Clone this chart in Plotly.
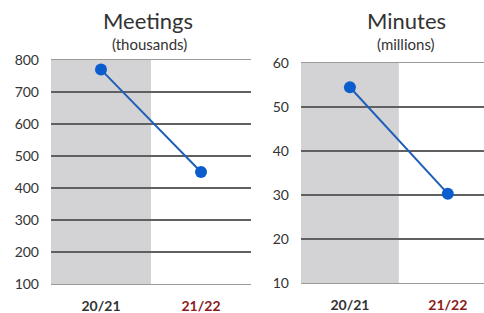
import plotly.graph_objects as go

categories = ["20/21", "21/22"]
meetings = [770, 450]
minutes = [54.5, 30.3]
meet_ticks = [100, 200, 300, 400, 500, 600, 700, 800]
min_ticks = [10, 20, 30, 40, 50, 60]

W, H = 484, 313
FONT = "Lato"
DARK = "#333333"
RED = "#8b1a1a"
GRID = "#606060"
SHADE = "#d3d3d5"
LINE = "#1f5fb8"
MARK = "#0b5ccc"

ticktext = ["<b>%s</b>" % categories[0],
            "<b><span style='color:%s'>%s</span></b>" % (RED, categories[1])]

fig = go.Figure()
fig.add_trace(go.Scatter(x=[0, 1], y=meetings, mode="lines+markers",
                         line=dict(color=LINE, width=2),
                         marker=dict(color=MARK, size=12),
                         xaxis="x", yaxis="y", hoverinfo="skip"))
fig.add_trace(go.Scatter(x=[0, 1], y=minutes, mode="lines+markers",
                         line=dict(color=LINE, width=2),
                         marker=dict(color=MARK, size=12),
                         xaxis="x2", yaxis="y2", hoverinfo="skip"))

def px(x):
    return x / W

def py(y):
    return 1 - y / H

xcommon = dict(tickmode="array", tickvals=[0, 1], ticktext=ticktext,
               showgrid=False, zeroline=False, ticks="", automargin=False,
               tickfont=dict(family=FONT, size=14, color=DARK),
               ticklabelstandoff=9, showline=True, linecolor="#9a9a9a",
               linewidth=1, mirror=True, fixedrange=True)
ycommon = dict(showgrid=True, gridcolor=GRID, gridwidth=1.5, zeroline=False,
               ticks="", tickfont=dict(family=FONT, size=14, color=DARK),
               ticklabelstandoff=11, showline=False, fixedrange=True,
               automargin=False)

fig.update_layout(
    width=W, height=H,
    margin=dict(l=0, r=0, t=0, b=0),
    paper_bgcolor="white", plot_bgcolor="white",
    showlegend=False,
    xaxis=dict(domain=[px(51), px(251)], range=[-0.5, 1.5], anchor="y", **xcommon),
    yaxis=dict(domain=[py(284), py(60)], range=[100, 800], tickvals=meet_ticks,
               anchor="x", **ycommon),
    xaxis2=dict(domain=[px(301), 1.0], range=[-0.5, 1.37], anchor="y2", **xcommon),
    yaxis2=dict(domain=[py(283), py(63)], range=[10, 60], tickvals=min_ticks,
                anchor="x2", **ycommon),
)

fig.add_shape(type="rect", xref="x", yref="y domain", x0=-0.5, x1=0.5, y0=0, y1=1,
              fillcolor=SHADE, line=dict(width=0), layer="below")
fig.add_shape(type="rect", xref="x2", yref="y2 domain", x0=-0.5, x1=0.5, y0=0, y1=1,
              fillcolor=SHADE, line=dict(width=0), layer="below")

titles = [("Meetings", px(148), py(21), 22), ("(thousands)", px(149), py(44), 15),
          ("Minutes", px(406), py(21), 22), ("(millions)", px(406), py(44), 15)]
for txt, x, y, s in titles:
    fig.add_annotation(text=txt, x=x, y=y, xref="paper", yref="paper",
                       showarrow=False, xanchor="center", yanchor="middle",
                       font=dict(family=FONT, size=s, color=DARK))

fig.write_html("out.html", config={"displayModeBar": False},
               post_script="document.body.style.margin='0';document.body.style.overflow='hidden';")
